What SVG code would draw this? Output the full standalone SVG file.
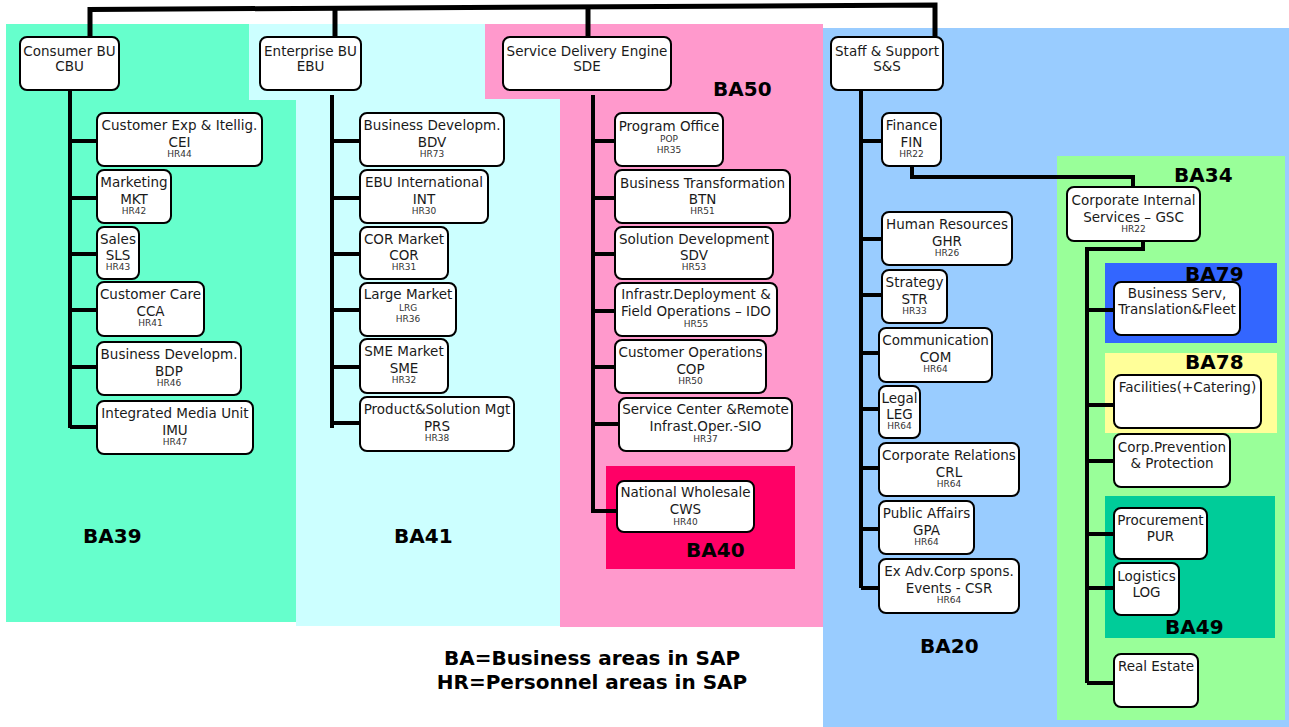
<svg xmlns="http://www.w3.org/2000/svg" width="1289" height="727" viewBox="0 0 1289 727">
<style>
.bg{stroke:none}
.n rect{fill:#fff;stroke:#000;stroke-width:2}
.n text{font-family:"DejaVu Sans",Verdana,sans-serif;font-size:13.5px;fill:#1a1a1a;text-anchor:middle}
.n text.s{font-size:9px;fill:#333}
.lab{font-family:"DejaVu Sans",Verdana,sans-serif;font-size:20px;font-weight:bold;fill:#000}
.leg{font-family:"DejaVu Sans",Verdana,sans-serif;font-size:20px;font-weight:bold;fill:#000;text-anchor:middle}
#connectors path{fill:none;stroke:#000;stroke-width:4}
#connectors path.top{stroke-width:5}
</style>
<rect width="1289" height="727" fill="#fff"/>
<g id="areas">
<polygon class="bg" fill="#66FFCC" points="6,24 249,24 249,100 296,100 296,622 6,622"/>
<polygon class="bg" fill="#CCFFFF" points="249,24 485,24 485,99 560,99 560,626 296,626 296,100 249,100"/>
<polygon class="bg" fill="#FF99CC" points="485,24 823,24 823,627 560,627 560,99 485,99"/>
<rect class="bg" fill="#99CCFF" x="823" y="28" width="466" height="699"/>
<rect class="bg" fill="#FF0066" x="606" y="466" width="189" height="103"/>
<rect class="bg" fill="#99FF99" x="1057" y="156" width="228" height="564"/>
<rect class="bg" fill="#3366FF" x="1105" y="263" width="172" height="80"/>
<rect class="bg" fill="#FFFF99" x="1105" y="353" width="172" height="80"/>
<rect class="bg" fill="#00CC99" x="1105" y="496" width="170" height="142"/>
</g>
<g id="labels">
<text class="lab" x="83" y="543">BA39</text>
<text class="lab" x="394" y="543">BA41</text>
<text class="lab" x="713" y="96">BA50</text>
<text class="lab" x="686" y="557">BA40</text>
<text class="lab" x="920" y="653">BA20</text>
<text class="lab" x="1174" y="182">BA34</text>
<text class="lab" x="1185" y="281">BA79</text>
<text class="lab" x="1185" y="369">BA78</text>
<text class="lab" x="1165" y="634">BA49</text>
<text class="leg" x="592" y="665">BA=Business areas in SAP</text>
<text class="leg" x="592" y="689">HR=Personnel areas in SAP</text>
</g>
<g id="connectors">
<path class="top" d="M90,37 V9.5 L935,5 V37"/>
<path class="top" d="M335,8 V37"/>
<path class="top" d="M588,7 V37"/>
<path d="M70,90 V428 M70,141 H97 M70,198 H97 M70,254 H97 M70,310 H97 M70,367 H97 M70,427 H97"/>
<path d="M332,95 V428 M332,141 H360 M332,198 H360 M332,254 H360 M332,310 H360 M332,367 H360 M332,423 H360"/>
<path d="M593,95 V513 M593,141 H615 M593,198 H615 M593,254 H615 M593,311 H615 M593,367 H615 M593,424 H619 M593,511 H617"/>
<path d="M861,90 V588 M861,141 H882 M861,239 H882 M861,295 H882 M861,353 H879 M861,409 H879 M861,468 H879 M861,529 H879 M861,588 H879"/>
<path d="M912,166 V177 H1133 V187"/>
<path d="M1143,241 V249 H1087 V683 M1087,310 H1114 M1087,405 H1114 M1087,461 H1114 M1087,534 H1114 M1087,588 H1114 M1087,683 H1114"/>
</g>
<g id="CBU" class="n"><rect x="20" y="37" width="99" height="53" rx="7"/><text x="69.5" y="55.5">Consumer BU</text><text x="69.5" y="71">CBU</text></g>
<g id="EBU" class="n"><rect x="260" y="37" width="101" height="53" rx="7"/><text x="310.5" y="55.5">Enterprise BU</text><text x="310.5" y="71">EBU</text></g>
<g id="SDE" class="n"><rect x="503" y="37" width="168" height="53" rx="7"/><text x="587" y="55.5">Service Delivery Engine</text><text x="587" y="71">SDE</text></g>
<g id="SS" class="n"><rect x="831" y="37" width="112" height="53" rx="7"/><text x="887" y="55.5">Staff &amp; Support</text><text x="887" y="71">S&amp;S</text></g>

<g id="CEI" class="n"><rect x="97" y="113" width="165" height="53" rx="7"/><text x="179.5" y="130">Customer Exp &amp; Itellig.</text><text x="179.5" y="146.5">CEI</text><text class="s" x="179.5" y="157">HR44</text></g>
<g id="MKT" class="n"><rect x="97" y="170" width="74" height="53" rx="7"/><text x="134" y="187">Marketing</text><text x="134" y="203.5">MKT</text><text class="s" x="134" y="214">HR42</text></g>
<g id="SLS" class="n"><rect x="97" y="227" width="42" height="52" rx="7"/><text x="118" y="244">Sales</text><text x="118" y="260">SLS</text><text class="s" x="118" y="270">HR43</text></g>
<g id="CCA" class="n"><rect x="97" y="282" width="107" height="54" rx="7"/><text x="150.5" y="299">Customer Care</text><text x="150.5" y="315.5">CCA</text><text class="s" x="150.5" y="326">HR41</text></g>
<g id="BDP" class="n"><rect x="97" y="342" width="144" height="53" rx="7"/><text x="169" y="359">Business Developm.</text><text x="169" y="375.5">BDP</text><text class="s" x="169" y="386">HR46</text></g>
<g id="IMU" class="n"><rect x="97" y="401" width="156" height="53" rx="7"/><text x="175" y="418">Integrated Media Unit</text><text x="175" y="434.5">IMU</text><text class="s" x="175" y="445">HR47</text></g>

<g id="BDV" class="n"><rect x="360" y="113" width="144" height="53" rx="7"/><text x="432" y="130">Business Developm.</text><text x="432" y="146.5">BDV</text><text class="s" x="432" y="157">HR73</text></g>
<g id="INT" class="n"><rect x="360" y="170" width="128" height="53" rx="7"/><text x="424" y="187">EBU International</text><text x="424" y="203.5">INT</text><text class="s" x="424" y="214">HR30</text></g>
<g id="COR" class="n"><rect x="360" y="227" width="88" height="52" rx="7"/><text x="404" y="244">COR Market</text><text x="404" y="260">COR</text><text class="s" x="404" y="270">HR31</text></g>
<g id="LRG" class="n"><rect x="360" y="283" width="96" height="53" rx="7"/><text x="408" y="299">Large Market</text><text class="s" x="408" y="311">LRG</text><text class="s" x="408" y="322">HR36</text></g>
<g id="SME" class="n"><rect x="360" y="339" width="88" height="54" rx="7"/><text x="404" y="356">SME Market</text><text x="404" y="372.5">SME</text><text class="s" x="404" y="383">HR32</text></g>
<g id="PRS" class="n"><rect x="360" y="397" width="154" height="54" rx="7"/><text x="437" y="414">Product&amp;Solution Mgt</text><text x="437" y="430.5">PRS</text><text class="s" x="437" y="441">HR38</text></g>

<g id="POP" class="n"><rect x="615" y="113" width="108" height="53" rx="7"/><text x="669" y="131">Program Office</text><text class="s" x="669" y="142">POP</text><text class="s" x="669" y="153">HR35</text></g>
<g id="BTN" class="n"><rect x="615" y="170" width="175" height="53" rx="7"/><text x="702.5" y="188">Business Transformation</text><text x="702.5" y="203.5">BTN</text><text class="s" x="702.5" y="214">HR51</text></g>
<g id="SDV" class="n"><rect x="615" y="227" width="158" height="52" rx="7"/><text x="694" y="244">Solution Development</text><text x="694" y="260">SDV</text><text class="s" x="694" y="270">HR53</text></g>
<g id="IDO" class="n"><rect x="615" y="283" width="162" height="53" rx="7"/><text x="696" y="299">Infrastr.Deployment &amp;</text><text x="696" y="316">Field Operations – IDO</text><text class="s" x="696" y="327">HR55</text></g>
<g id="COP" class="n"><rect x="615" y="340" width="151" height="53" rx="7"/><text x="690.5" y="357">Customer Operations</text><text x="690.5" y="373.5">COP</text><text class="s" x="690.5" y="384">HR50</text></g>
<g id="SIO" class="n"><rect x="619" y="398" width="173" height="53" rx="7"/><text x="705.5" y="414">Service Center &amp;Remote</text><text x="705.5" y="431">Infrast.Oper.-SIO</text><text class="s" x="705.5" y="442">HR37</text></g>
<g id="CWS" class="n"><rect x="617" y="481" width="137" height="51" rx="7"/><text x="685.5" y="497">National Wholesale</text><text x="685.5" y="514">CWS</text><text class="s" x="685.5" y="525">HR40</text></g>

<g id="FIN" class="n"><rect x="882" y="113" width="59" height="53" rx="7"/><text x="911.5" y="130">Finance</text><text x="911.5" y="146.5">FIN</text><text class="s" x="911.5" y="157">HR22</text></g>
<g id="GHR" class="n"><rect x="882" y="212" width="130" height="53" rx="7"/><text x="947" y="229">Human Resources</text><text x="947" y="245.5">GHR</text><text class="s" x="947" y="256">HR26</text></g>
<g id="STR" class="n"><rect x="882" y="270" width="65" height="53" rx="7"/><text x="914.5" y="287">Strategy</text><text x="914.5" y="303.5">STR</text><text class="s" x="914.5" y="314">HR33</text></g>
<g id="COM" class="n"><rect x="879" y="328" width="113" height="54" rx="7"/><text x="935.5" y="345">Communication</text><text x="935.5" y="361.5">COM</text><text class="s" x="935.5" y="372">HR64</text></g>
<g id="LEG" class="n"><rect x="879" y="386" width="41" height="52" rx="7"/><text x="899.5" y="403">Legal</text><text x="899.5" y="419">LEG</text><text class="s" x="899.5" y="429">HR64</text></g>
<g id="CRL" class="n"><rect x="879" y="443" width="140" height="53" rx="7"/><text x="949" y="460">Corporate Relations</text><text x="949" y="476.5">CRL</text><text class="s" x="949" y="487">HR64</text></g>
<g id="GPA" class="n"><rect x="879" y="501" width="95" height="53" rx="7"/><text x="926.5" y="518">Public Affairs</text><text x="926.5" y="534.5">GPA</text><text class="s" x="926.5" y="545">HR64</text></g>
<g id="CSR" class="n"><rect x="879" y="559" width="140" height="54" rx="7"/><text x="949" y="576">Ex Adv.Corp spons.</text><text x="949" y="592.5">Events - CSR</text><text class="s" x="949" y="603">HR64</text></g>

<g id="GSC" class="n"><rect x="1067" y="187" width="133" height="54" rx="7"/><text x="1133.5" y="205">Corporate Internal</text><text x="1133.5" y="222">Services – GSC</text><text class="s" x="1133.5" y="232">HR22</text></g>
<g id="BSV" class="n"><rect x="1114" y="282" width="126" height="53" rx="7"/><text x="1177" y="298">Business Serv,</text><text x="1177" y="314">Translation&amp;Fleet</text></g>
<g id="FAC" class="n"><rect x="1114" y="375" width="147" height="53" rx="7"/><text x="1187.5" y="392">Facilities(+Catering)</text></g>
<g id="CPP" class="n"><rect x="1114" y="434" width="116" height="53" rx="7"/><text x="1172" y="452">Corp.Prevention</text><text x="1172" y="468">&amp; Protection</text></g>
<g id="PUR" class="n"><rect x="1114" y="508" width="93" height="51" rx="7"/><text x="1160.5" y="525">Procurement</text><text x="1160.5" y="541">PUR</text></g>
<g id="LOG" class="n"><rect x="1114" y="563" width="65" height="52" rx="7"/><text x="1146.5" y="581">Logistics</text><text x="1146.5" y="597">LOG</text></g>
<g id="REA" class="n"><rect x="1114" y="654" width="84" height="53" rx="7"/><text x="1156" y="671">Real Estate</text></g>
</svg>
